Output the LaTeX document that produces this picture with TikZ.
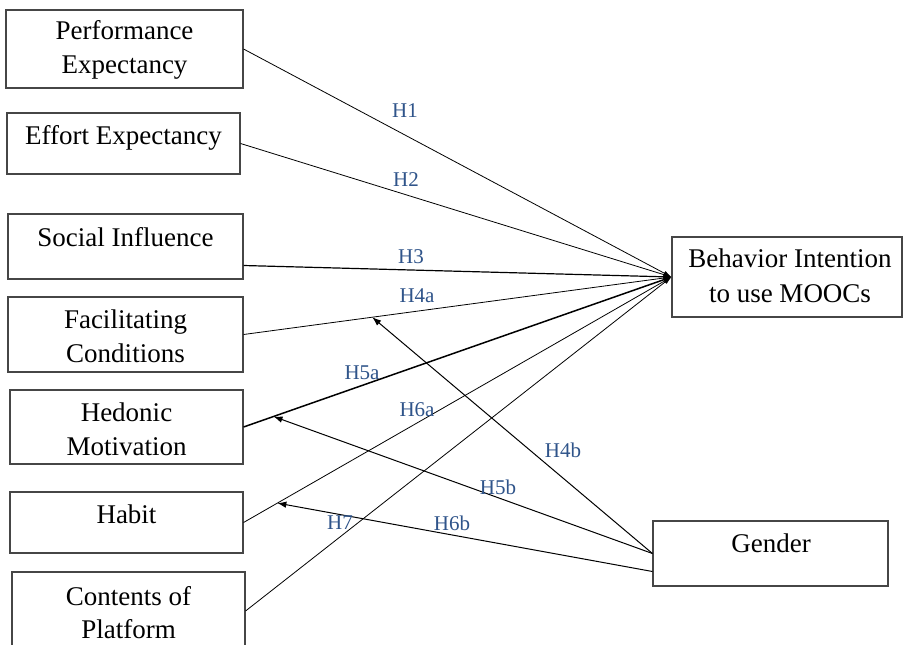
\documentclass[tikz,border=0pt]{standalone}
\usepackage{fontspec}
\setmainfont{Liberation Serif}
\usetikzlibrary{arrows.meta,calc}
\definecolor{hblue}{RGB}{47,84,138}
\definecolor{boxgray}{RGB}{70,70,70}
\begin{document}
\begin{tikzpicture}[x=1pt,y=-1pt,
  box/.style={draw=boxgray, line width=1.1pt, inner sep=0pt, fill=white},
  txt/.style={font=\fontsize{27}{34}\selectfont, anchor=base, inner sep=0pt},
  hlab/.style={font=\fontsize{21}{24}\selectfont, text=hblue, inner sep=0pt},
  conn/.style={line width=0.8pt, -{Latex[length=8pt,width=5pt]}},
  mod/.style={line width=1pt, -{Latex[length=9pt,width=6.5pt]}}
  ]
\clip (0,0) rectangle (905,645);
\fill[white] (0,0) rectangle (905,645);

% boxes
\node[box, minimum width=237pt, minimum height=78pt] (pe) at (124.5,49) {};
\node[box, minimum width=233pt, minimum height=61pt] (ee) at (123.5,143.5) {};
\node[box, minimum width=235pt, minimum height=65pt] (si) at (125.5,246.5) {};
\node[box, minimum width=235pt, minimum height=75pt] (fc) at (125.5,334.5) {};
\node[box, minimum width=233pt, minimum height=74pt] (hm) at (126.5,427) {};
\node[box, minimum width=233pt, minimum height=61pt] (hb) at (126.5,522.5) {};
\node[box, minimum width=233pt, minimum height=78pt] (cp) at (128.5,611) {};
\node[box, minimum width=230pt, minimum height=80pt] (bi) at (787,277) {};
\node[box, minimum width=235pt, minimum height=65pt] (gd) at (770.5,553.5) {};

% texts
\node[txt] (pe1) at (124.5,39) {Performance};
\node[txt] (pe2) at (124.5,73) {Expectancy};
\node[txt] (ee1) at (123.5,144) {Effort Expectancy};
\node[txt] (si1) at (125.5,246) {Social Influence};
\node[txt] (fc1) at (125.5,328) {Facilitating};
\node[txt] (fc2) at (125.5,362) {Conditions};
\node[txt] (hm1) at (126.5,421) {Hedonic};
\node[txt] (hm2) at (126.5,455) {Motivation};
\node[txt] (hb1) at (126.5,523) {Habit};
\node[txt] (cp1) at (128.5,605) {Contents of};
\node[txt] (cp2) at (128.5,638) {Platform};
\node[txt] (bi1) at (790,267) {Behavior Intention};
\node[txt] (bi2) at (790,302) {to use MOOCs};
\node[txt] (gd1) at (771,552) {Gender};

% main paths
\draw[conn] (pe.east) -- (bi.west);
\draw[conn] (ee.east) -- (bi.west);
\draw[conn, line width=1.2pt] ($(si.east)+(0,19)$) -- (bi.west);
\draw[conn] (fc.east) -- (bi.west);
\draw[conn, line width=1.5pt] (hm.east) -- (bi.west);
\draw[conn] (hb.east) -- (bi.west);
\draw[conn] (cp.east) -- (bi.west);

% points on paths
\path (fc.east) -- (bi.west) coordinate[pos=0.3007] (m4);
\path (hm.east) -- (bi.west) coordinate[pos=0.070] (m5);
\path (hb.east) -- (bi.west) coordinate[pos=0.079] (m6);

% moderation
\draw[mod] (gd.west) -- (m4);
\draw[mod] (gd.west) -- (m5);
\draw[mod] ($(gd.west)+(0,18)$) -- (m6);

% labels
\node[hlab] (h1) at (405,111) {H1};
\node[hlab] (h2) at (406,180) {H2};
\node[hlab] (h3) at (411,257) {H3};
\node[hlab] (h4a) at (417,296) {H4a};
\node[hlab] (h5a) at (362,373) {H5a};
\node[hlab] (h6a) at (417,410) {H6a};
\node[hlab] (h7) at (340,523) {H7};
\node[hlab] (h4b) at (563,450) {H4b};
\node[hlab] (h5b) at (498,487) {H5b};
\node[hlab] (h6b) at (452,523) {H6b};
\end{tikzpicture}
\end{document}
